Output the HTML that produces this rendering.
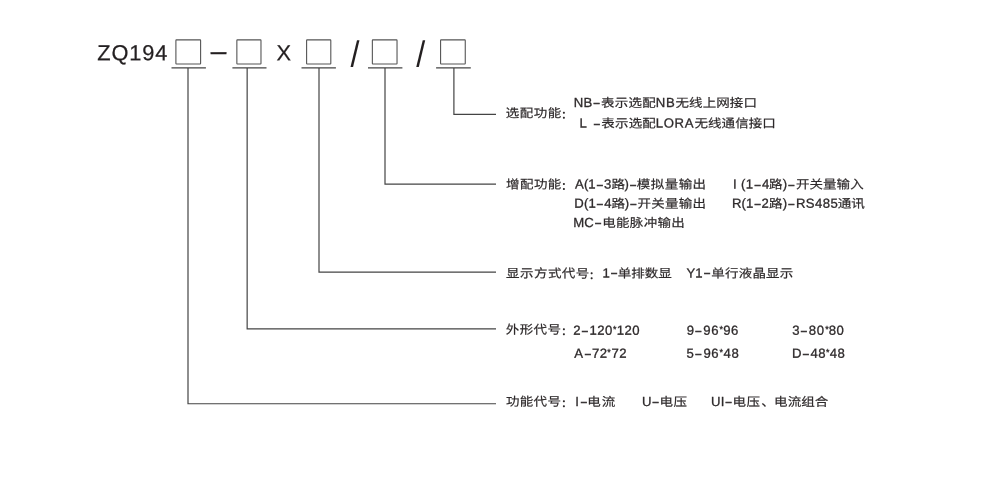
<!DOCTYPE html>
<html lang="zh-CN">
<head>
<meta charset="utf-8">
<title>ZQ194 型号说明</title>
<style>
html,body{margin:0;padding:0;background:#fff;}
body{width:1000px;height:486px;position:relative;overflow:hidden;
  font-family:"Liberation Sans","Noto Sans CJK SC",sans-serif;color:#2e2a2b;}
#stage{position:absolute;left:0;top:0;width:1000px;height:486px;filter:blur(0.55px);}
#wires{position:absolute;left:0;top:0;width:1000px;height:486px;}
#wires path,#wires rect{fill:none;stroke:#444;stroke-width:1.2;}
#wires rect{stroke:#555;stroke-width:1.1;}
.r{position:absolute;left:0;height:20px;width:1000px;margin:0;}
.r span{position:absolute;left:0;top:0;white-space:pre;line-height:20px;height:20px;transform-origin:0 50%;font-size:13.15px;-webkit-text-stroke:0.3px #2e2a2b;}
.r .c{font-size:13.0px;font-weight:400;-webkit-text-stroke:0.2px #2e2a2b;}
.r .k{font-size:10.6px;font-weight:700;-webkit-text-stroke:0;}
.r i{font-style:normal;display:inline-block;transform:scaleX(0.78);margin:0 0.45px;-webkit-text-stroke:0.6px #2e2a2b;}
.r b{font-weight:normal;display:inline-block;transform:scale(0.68);transform-origin:50% 27%;margin:0 -0.8px;-webkit-text-stroke:0.45px #2e2a2b;}
#model{position:absolute;left:0;top:0;width:1000px;height:90px;margin:0;color:#231f20;}
#model span{position:absolute;left:0;white-space:pre;line-height:40px;height:40px;transform-origin:0 50%;}
</style>
</head>
<body>
<div id="stage">
<svg id="wires" width="1000" height="486" viewBox="0 0 1000 486">
<rect x="175.90" y="39.90" width="24.70" height="24.10" rx="0.5"/>
<rect x="236.86" y="39.90" width="24.12" height="24.10" rx="0.5"/>
<rect x="306.60" y="39.90" width="24.20" height="24.10" rx="0.5"/>
<rect x="372.36" y="39.90" width="24.67" height="24.10" rx="0.5"/>
<rect x="440.58" y="39.90" width="24.68" height="24.10" rx="0.5"/>
<path d="M171.50 67.90H205.90"/>
<path d="M232.40 67.90H266.50"/>
<path d="M301.50 67.90H335.90"/>
<path d="M368.00 67.90H402.40"/>
<path d="M436.10 67.90H470.80"/>
<path d="M188.00 67.90V403.75H496.00"/>
<path d="M247.15 67.90V328.95H496.00"/>
<path d="M319.00 67.90V272.05H496.00"/>
<path d="M385.00 67.90V184.05H496.00"/>
<path d="M453.90 67.90V114.40H496.00"/>
</svg>
<p id="model"><span id="t_zq" style="top:33px;font-size:21.80px;transform:matrix(1.0,0.0005,0,1,97.25,0.13);letter-spacing:0.90px;-webkit-text-stroke:0.25px #231f20;">ZQ194</span><span id="t_d" style="top:31px;font-size:28.00px;transform:matrix(1.0,0.0005,0,1,210.74,0.16);-webkit-text-stroke:0.3px #231f20;">–</span><span id="t_x" style="top:33px;font-size:21.80px;transform:matrix(1.0,0.0005,0,1,276.48,0.17);-webkit-text-stroke:0.25px #231f20;">X</span><span id="t_s1" style="top:34px;font-size:36.70px;transform:matrix(0.88,0.0005,0,1,350.58,0.81);">/</span><span id="t_s2" style="top:34px;font-size:36.70px;transform:matrix(0.88,0.0005,0,1,416.15,0.81);">/</span></p>
<p class="r" id="l1" style="top:103px;"><span class="c" id="l1_0" style="transform:matrix(1.04,0.0005,0,0.924,505.81,0.50);letter-spacing:0.48px;">选配功能</span><span class="k" id="l1_1" style="transform:matrix(1,0.0005,0,1,561.15,1.75);">：</span></p>
<p class="r" id="a1" style="top:93px;"><span class="e" id="a1_0" style="transform:matrix(1,0.0005,0,1,573.86,-0.07);letter-spacing:0.07px;">NB<i>–</i></span><span class="c" id="a1_1" style="transform:matrix(1.04,0.0005,0,0.924,601.01,0.20);letter-spacing:0.18px;">表示选配</span><span class="e" id="a1_2" style="transform:matrix(1,0.0005,0,1,655.81,-0.07);letter-spacing:0.67px;">NB</span><span class="c" id="a1_3" style="transform:matrix(1.04,0.0005,0,0.924,675.45,0.20);letter-spacing:0.08px;">无线上网接口</span></p>
<p class="r" id="a2" style="top:114px;"><span class="e" id="a2_0" style="transform:matrix(1,0.0005,0,1,579.40,-0.47);">L</span><span class="e" id="a2_1" style="transform:matrix(1,0.0005,0,1,589.08,-0.47);"> <i>–</i></span><span class="c" id="a2_2" style="transform:matrix(1.04,0.0005,0,0.924,601.34,-0.20);letter-spacing:0.14px;">表示选配</span><span class="e" id="a2_3" style="transform:matrix(1,0.0005,0,1,655.82,-0.47);letter-spacing:0.63px;">LORA</span><span class="c" id="a2_4" style="transform:matrix(1.04,0.0005,0,0.924,694.46,-0.20);letter-spacing:0.04px;">无线通信接口</span></p>
<p class="r" id="l2" style="top:175px;"><span class="c" id="l2_0" style="transform:matrix(1.04,0.0005,0,0.924,505.94,-0.15);letter-spacing:0.44px;">增配功能</span><span class="k" id="l2_1" style="transform:matrix(1,0.0005,0,1,561.20,1.10);">：</span></p>
<p class="r" id="b1" style="top:175px;"><span class="e" id="b1_0" style="transform:matrix(1,0.0005,0,1,575.08,-0.47);letter-spacing:0.05px;">A(1<i>–</i>3</span><span class="c" id="b1_1" style="transform:matrix(1.04,0.0005,0,0.924,611.41,-0.20);">路</span><span class="e" id="b1_2" style="transform:matrix(1,0.0005,0,1,624.44,-0.47);">)<i>–</i></span><span class="c" id="b1_3" style="transform:matrix(1.04,0.0005,0,0.924,636.79,-0.20);letter-spacing:0.41px;">模拟量输出</span></p>
<p class="r" id="b2" style="top:194px;"><span class="e" id="b2_0" style="transform:matrix(1,0.0005,0,1,574.29,-0.27);letter-spacing:0.13px;">D(1<i>–</i>4</span><span class="c" id="b2_1" style="transform:matrix(1.04,0.0005,0,0.924,611.42,0.00);">路</span><span class="e" id="b2_2" style="transform:matrix(1,0.0005,0,1,624.69,-0.27);">)<i>–</i></span><span class="c" id="b2_3" style="transform:matrix(1.04,0.0005,0,0.924,637.61,0.00);letter-spacing:0.21px;">开关量输出</span></p>
<p class="r" id="b3" style="top:213px;"><span class="e" id="b3_0" style="transform:matrix(1,0.0005,0,1,573.37,-0.02);">MC<i>–</i></span><span class="c" id="b3_1" style="transform:matrix(1.04,0.0005,0,0.924,602.13,0.25);letter-spacing:0.30px;">电能脉冲输出</span></p>
<p class="r" id="b4" style="top:175px;"><span class="e" id="b4_0" style="transform:matrix(1,0.0005,0,1,732.99,-0.47);">I</span><span class="e" id="b4_1" style="transform:matrix(1,0.0005,0,1,736.98,-0.47);letter-spacing:0.37px;"> (1<i>–</i>4</span><span class="c" id="b4_2" style="transform:matrix(1.04,0.0005,0,0.924,768.97,-0.20);">路</span><span class="e" id="b4_3" style="transform:matrix(1,0.0005,0,1,782.68,-0.47);">)<i>–</i></span><span class="c" id="b4_4" style="transform:matrix(1.04,0.0005,0,0.924,795.90,-0.20);letter-spacing:0.04px;">开关量输入</span></p>
<p class="r" id="b5" style="top:194px;"><span class="e" id="b5_0" style="transform:matrix(1,0.0005,0,1,732.06,-0.27);letter-spacing:0.05px;">R(1<i>–</i>2</span><span class="c" id="b5_1" style="transform:matrix(1.04,0.0005,0,0.924,769.00,0.00);">路</span><span class="e" id="b5_2" style="transform:matrix(1,0.0005,0,1,782.72,-0.27);">)<i>–</i></span><span class="e" id="b5_3" style="transform:matrix(1,0.0005,0,1,795.91,-0.27);letter-spacing:0.44px;">RS485</span><span class="c" id="b5_4" style="transform:matrix(1.04,0.0005,0,0.924,837.75,0.00);letter-spacing:0.02px;">通讯</span></p>
<p class="r" id="l3" style="top:264px;"><span class="c" id="l3_0" style="transform:matrix(1.04,0.0005,0,0.924,506.07,-0.10);letter-spacing:0.41px;">显示方式代号</span><span class="k" id="l3_1" style="transform:matrix(1,0.0005,0,1,588.91,1.15);">：</span></p>
<p class="r" id="c1" style="top:264px;"><span class="e" id="c1_0" style="transform:matrix(1,0.0005,0,1,602.53,-0.52);">1<i>–</i></span><span class="c" id="c1_1" style="transform:matrix(1.04,0.0005,0,0.924,617.81,-0.25);">单排数显</span></p>
<p class="r" id="c2" style="top:264px;"><span class="e" id="c2_0" style="transform:matrix(1,0.0005,0,1,686.38,-0.52);">Y1<i>–</i></span><span class="c" id="c2_1" style="transform:matrix(1.04,0.0005,0,0.924,711.37,-0.25);letter-spacing:0.16px;">单行液晶显示</span></p>
<p class="r" id="l4" style="top:320px;"><span class="c" id="l4_0" style="transform:matrix(1.04,0.0005,0,0.924,505.86,0.10);letter-spacing:0.33px;">外形代号</span><span class="k" id="l4_1" style="transform:matrix(1,0.0005,0,1,561.24,1.35);">：</span></p>
<p class="r" id="d1" style="top:321px;"><span class="e" id="d1_0" style="transform:matrix(1,0.0005,0,1,573.16,-0.32);letter-spacing:0.44px;">2<i>–</i>120<b>*</b>120</span></p>
<p class="r" id="d2" style="top:321px;"><span class="e" id="d2_0" style="transform:matrix(1,0.0005,0,1,686.67,-0.32);letter-spacing:0.56px;">9<i>–</i>96<b>*</b>96</span></p>
<p class="r" id="d3" style="top:321px;"><span class="e" id="d3_0" style="transform:matrix(1,0.0005,0,1,792.23,-0.32);letter-spacing:0.56px;">3<i>–</i>80<b>*</b>80</span></p>
<p class="r" id="d4" style="top:344px;"><span class="e" id="d4_0" style="transform:matrix(1,0.0005,0,1,574.27,-0.32);letter-spacing:0.42px;">A<i>–</i>72<b>*</b>72</span></p>
<p class="r" id="d5" style="top:344px;"><span class="e" id="d5_0" style="transform:matrix(1,0.0005,0,1,686.62,-0.32);letter-spacing:0.63px;">5<i>–</i>96<b>*</b>48</span></p>
<p class="r" id="d6" style="top:344px;"><span class="e" id="d6_0" style="transform:matrix(1,0.0005,0,1,792.08,-0.32);letter-spacing:0.37px;">D<i>–</i>48<b>*</b>48</span></p>
<p class="r" id="l5" style="top:392px;"><span class="c" id="l5_0" style="transform:matrix(1.04,0.0005,0,0.924,505.93,0.10);letter-spacing:0.29px;">功能代号</span><span class="k" id="l5_1" style="transform:matrix(1,0.0005,0,1,561.24,1.35);">：</span></p>
<p class="r" id="e1" style="top:392px;"><span class="e" id="e1_0" style="transform:matrix(1,0.0005,0,1,575.14,-0.07);letter-spacing:0.65px;">I<i>–</i></span><span class="c" id="e1_1" style="transform:matrix(1.04,0.0005,0,0.924,587.20,0.20);letter-spacing:0.96px;">电流</span></p>
<p class="r" id="e2" style="top:392px;"><span class="e" id="e2_0" style="transform:matrix(1,0.0005,0,1,641.95,-0.07);letter-spacing:0.48px;">U<i>–</i></span><span class="c" id="e2_1" style="transform:matrix(1.04,0.0005,0,0.924,659.56,0.20);letter-spacing:0.40px;">电压</span></p>
<p class="r" id="e3" style="top:392px;"><span class="e" id="e3_0" style="transform:matrix(1,0.0005,0,1,711.02,-0.07);letter-spacing:0.27px;">UI<i>–</i></span><span class="c" id="e3_1" style="transform:matrix(1.04,0.0005,0,0.924,732.56,0.20);letter-spacing:0.40px;">电压</span><span class="c" id="e3_2" style="transform:matrix(1.04,0.0005,0,0.924,761.14,0.20);">、</span><span class="c" id="e3_3" style="transform:matrix(1.04,0.0005,0,0.924,774.09,0.20);letter-spacing:0.06px;">电流组合</span></p>
</div>
</body>
</html>
